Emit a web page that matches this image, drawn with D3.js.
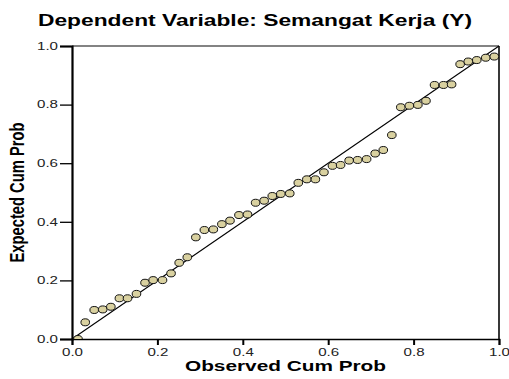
<!DOCTYPE html>
<html>
<head>
<meta charset="utf-8">
<script src="https://cdn.jsdelivr.net/npm/d3@7/dist/d3.min.js"></script>
<style>
  body { margin: 0; background: #fff; }
  text { font-family: "Liberation Sans", Arial, sans-serif; }
</style>
</head>
<body>
<div id="chart"></div>
<script>
// values
const observedCum = [0.014, 0.031, 0.052, 0.072, 0.091, 0.111, 0.130, 0.151, 0.171, 0.190,
                     0.212, 0.232, 0.251, 0.270, 0.290, 0.310, 0.331, 0.351, 0.370, 0.391,
                     0.411, 0.430, 0.450, 0.469, 0.489, 0.510, 0.530, 0.550, 0.570, 0.590,
                     0.610, 0.629, 0.649, 0.669, 0.690, 0.710, 0.729, 0.749, 0.770, 0.790,
                     0.810, 0.829, 0.849, 0.870, 0.889, 0.909, 0.928, 0.948, 0.969, 0.989];
const expectedCum = [0.000, 0.057, 0.099, 0.101, 0.110, 0.139, 0.139, 0.154, 0.192, 0.201,
                     0.201, 0.224, 0.260, 0.279, 0.347, 0.372, 0.374, 0.392, 0.404, 0.423,
                     0.425, 0.465, 0.472, 0.488, 0.495, 0.497, 0.533, 0.545, 0.545, 0.569,
                     0.591, 0.594, 0.609, 0.611, 0.614, 0.633, 0.645, 0.696, 0.791, 0.796,
                     0.799, 0.813, 0.867, 0.867, 0.869, 0.938, 0.947, 0.952, 0.960, 0.964];
const tickValues = [0, 0.2, 0.4, 0.6, 0.8, 1.0];
const chartTitle = "Dependent Variable: Semangat Kerja (Y)";
const xTitle = "Observed Cum Prob";
const yTitle = "Expected Cum Prob";

const width = 509, height = 379;
const plotL = 72, plotR = 499, plotT = 46, plotB = 339;

const svg = d3.select("#chart").append("svg")
    .attr("width", width)
    .attr("height", height);

const x = d3.scaleLinear().domain([0, 1]).range([plotL, plotR]);
const y = d3.scaleLinear().domain([0, 1]).range([plotB, plotT]);

// title
svg.append("text")
    .attr("x", 255)
    .attr("y", 26)
    .attr("text-anchor", "middle")
    .attr("font-size", 16)
    .attr("font-weight", "bold")
    .attr("textLength", 434)
    .attr("lengthAdjust", "spacingAndGlyphs")
    .text(chartTitle);

// frame: top and right
svg.append("line")
    .attr("x1", plotL).attr("x2", plotR).attr("y1", plotT).attr("y2", plotT)
    .attr("stroke", "#5a5a5a").attr("stroke-width", 1.6);
svg.append("line")
    .attr("x1", plotR).attr("x2", plotR).attr("y1", plotT).attr("y2", plotB)
    .attr("stroke", "#222").attr("stroke-width", 1.8);

// axes
const xAxis = svg.append("g")
    .attr("transform", `translate(0,${plotB})`)
    .call(d3.axisBottom(x).tickValues(tickValues).tickSize(6).tickPadding(4)
        .tickFormat(d3.format(".1f")));
const yAxis = svg.append("g")
    .attr("transform", `translate(${plotL},0)`)
    .call(d3.axisLeft(y).tickValues(tickValues).tickSize(12).tickPadding(2)
        .tickFormat(d3.format(".1f")));

xAxis.select(".domain").attr("stroke", "#000").attr("stroke-width", 1.6);
yAxis.select(".domain").attr("stroke", "#000").attr("stroke-width", 2.2);
xAxis.selectAll(".tick line").attr("stroke", "#000").attr("stroke-width", 2);
yAxis.selectAll(".tick line").attr("stroke", "#000").attr("stroke-width", 1.3);
[xAxis, yAxis].forEach(g => g.selectAll(".tick text")
    .attr("font-size", 10)
    .attr("font-family", "'Liberation Sans', Arial, sans-serif")
    .attr("fill", "#222")
    .attr("textLength", 21)
    .attr("lengthAdjust", "spacingAndGlyphs"));

// axis titles
svg.append("text")
    .attr("x", (plotL + plotR) / 2)
    .attr("y", 371)
    .attr("text-anchor", "middle")
    .attr("font-size", 14)
    .attr("font-weight", "bold")
    .attr("textLength", 201)
    .attr("lengthAdjust", "spacingAndGlyphs")
    .text(xTitle);

svg.append("text")
    .attr("transform", `translate(24,${(plotT + plotB) / 2}) scale(1.35,1) rotate(-90)`)
    .attr("text-anchor", "middle")
    .attr("font-size", 14.5)
    .attr("font-weight", "bold")
    .attr("textLength", 140)
    .attr("lengthAdjust", "spacingAndGlyphs")
    .text(yTitle);

// reference diagonal
svg.append("line")
    .attr("x1", x(0)).attr("y1", y(0))
    .attr("x2", x(1)).attr("y2", y(1))
    .attr("stroke", "#000").attr("stroke-width", 1.1);

// points
svg.append("clipPath").attr("id", "plot-clip")
  .append("rect")
    .attr("x", plotL).attr("y", plotT)
    .attr("width", plotR - plotL).attr("height", plotB - plotT);

const pts = observedCum.map((o, i) => ({ o, e: expectedCum[i] }));
svg.append("g")
    .attr("clip-path", "url(#plot-clip)")
  .selectAll("ellipse")
  .data(pts)
  .join("ellipse")
    .attr("cx", d => x(d.o))
    .attr("cy", d => y(d.e))
    .attr("rx", 4.3)
    .attr("ry", 3.5)
    .attr("fill", "#d9d1a0")
    .attr("stroke", "#111")
    .attr("stroke-width", 1);
</script>
</body>
</html>
